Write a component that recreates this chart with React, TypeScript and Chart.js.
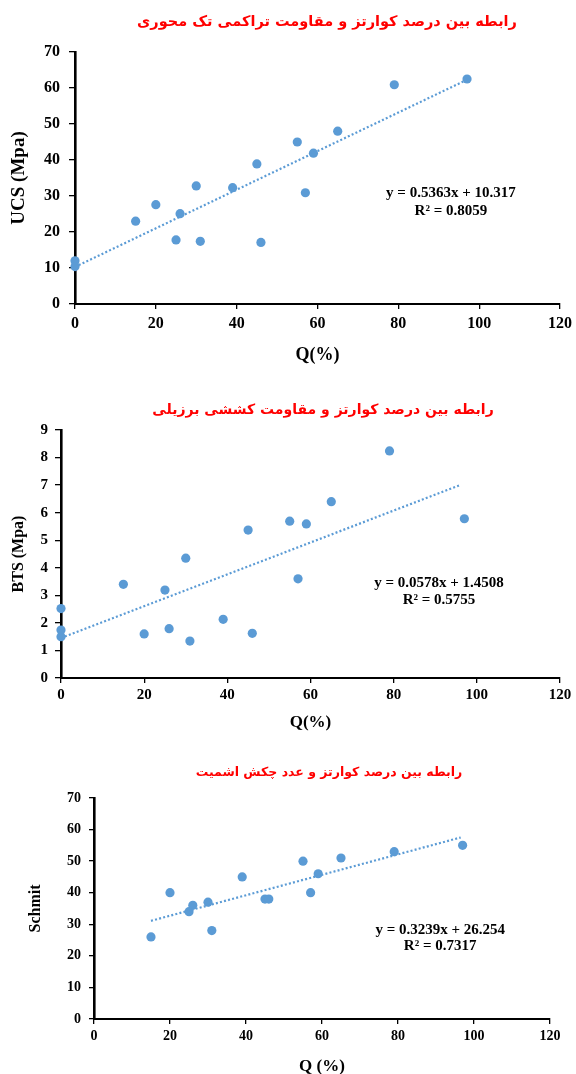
import React, { useEffect, useRef } from 'react';
import { Chart, registerables } from 'chart.js';

Chart.register(...registerables);

// ---------- data ----------
const TITLE_UCS = 'رابطه بین درصد کوارتز و مقاومت تراکمی تک محوری';
const TITLE_BTS = 'رابطه بین درصد کوارتز و مقاومت کششی برزیلی';
const TITLE_SCH = 'رابطه بین درصد کوارتز و عدد چکش اشمیت';

const Q_UCS = [0, 0, 15, 20, 25, 26, 30, 31, 39, 45, 46, 55, 57, 59, 65, 79, 97];
const UCS = [12.0, 10.4, 23.0, 27.6, 17.8, 25.1, 32.8, 17.4, 32.3, 38.9, 17.1, 45.0, 30.9, 41.9, 48.0, 60.9, 62.5];
const TREND_UCS_X = [0, 97];
const TREND_UCS_Y = [10.3, 62.3];
const EQ_UCS = ['y = 0.5363x + 10.317', 'R² = 0.8059'];

const Q_BTS = [0, 0, 0, 15, 20, 25, 26, 30, 31, 39, 45, 46, 55, 57, 59, 65, 79, 97];
const BTS = [2.52, 1.74, 1.5, 3.4, 1.6, 3.19, 1.79, 4.35, 1.34, 2.13, 5.37, 1.62, 5.69, 3.6, 5.59, 6.4, 8.24, 5.78];
const TREND_BTS_X = [0, 96];
const TREND_BTS_Y = [1.45, 7.0];
const EQ_BTS = ['y = 0.0578x + 1.4508', 'R² = 0.5755'];

const Q_SCH = [15, 20, 25, 26, 30, 31, 39, 45, 46, 55, 57, 59, 65, 79, 97];
const SCH = [26, 40, 34, 36, 37, 28, 45, 38, 38, 50, 40, 46, 51, 53, 55];
const TREND_SCH_X = [15, 96.5];
const TREND_SCH_Y = [31.1, 57.5];
const EQ_SCH = ['y = 0.3239x + 26.254', 'R² = 0.7317'];

const X_TICKS_MAX = 120;
const X_TICKS_STEP = 20;

const BLUE = '#5B9BD5';
const SERIF = '"Liberation Serif", "Times New Roman", serif';

// ---------- plugin for the regression text ----------
const eqPlugin = {
  id: 'eqText',
  afterDatasetsDraw(chart: any, _args: any, opts: any) {
    if (!opts || !opts.lines) return;
    const { ctx, scales } = chart;
    const x = scales.x.getPixelForValue(opts.x);
    const y = scales.y.getPixelForValue(opts.y);
    ctx.save();
    ctx.font = `bold ${opts.size}px ${SERIF}`;
    ctx.fillStyle = '#000';
    ctx.textAlign = 'center';
    ctx.textBaseline = 'middle';
    opts.lines.forEach((l: string, i: number) => ctx.fillText(l, x, y + i * opts.gap));
    ctx.restore();
  },
};

type Panel = {
  top: number; width: number; height: number;
  title: string; titleSize: number; titlePad: { top: number; bottom: number };
  xs: number[]; ys: number[]; tx: number[]; ty: number[];
  yMax: number; yStep: number;
  yWidth: number; rightPad: number; xHeight: number;
  tickSize: number; yTickLen: number; yTickPad: number; xTickLen: number; xTickPad: number;
  xTitle: string; xTitleSize: number; xTitlePad: number;
  yTitle: string; yTitleSize: number; yTitlePad: number;
  eq: string[]; eqX: number; eqY: number; eqSize: number; eqGap: number;
};

const PANELS: Panel[] = [
  {
    top: 0, width: 654, height: 372,
    title: TITLE_UCS, titleSize: 14.5, titlePad: { top: 13.3, bottom: 21.3 },
    xs: Q_UCS, ys: UCS, tx: TREND_UCS_X, ty: TREND_UCS_Y,
    yMax: 70, yStep: 10,
    yWidth: 75, rightPad: 94, xHeight: 68,
    tickSize: 16, yTickLen: 6, yTickPad: 9, xTickLen: 5, xTickPad: 5,
    xTitle: 'Q(%)', xTitleSize: 18, xTitlePad: 6,
    yTitle: 'UCS (Mpa)', yTitleSize: 19, yTitlePad: 7.6,
    eq: EQ_UCS, eqX: 93, eqY: 30.8, eqSize: 15, eqGap: 18,
  },
  {
    top: 372, width: 646, height: 370,
    title: TITLE_BTS, titleSize: 14, titlePad: { top: 29.6, bottom: 11.6 },
    xs: Q_BTS, ys: BTS, tx: TREND_BTS_X, ty: TREND_BTS_Y,
    yMax: 9, yStep: 1,
    yWidth: 61, rightPad: 86, xHeight: 64,
    tickSize: 15, yTickLen: 6, yTickPad: 7, xTickLen: 5, xTickPad: 3,
    xTitle: 'Q(%)', xTitleSize: 17, xTitlePad: 8.8,
    yTitle: 'BTS (Mpa)', yTitleSize: 16, yTitlePad: 8.9,
    eq: EQ_BTS, eqX: 90.9, eqY: 3.45, eqSize: 15, eqGap: 17,
  },
  {
    top: 742, width: 658, height: 332,
    title: TITLE_SCH, titleSize: 12.5, titlePad: { top: 23.5, bottom: 17.5 },
    xs: Q_SCH, ys: SCH, tx: TREND_SCH_X, ty: TREND_SCH_Y,
    yMax: 70, yStep: 10,
    yWidth: 94, rightPad: 108, xHeight: 55,
    tickSize: 14, yTickLen: 5, yTickPad: 8, xTickLen: 5, xTickPad: 4,
    xTitle: 'Q (%)', xTitleSize: 17, xTitlePad: -3.2,
    yTitle: 'Schmit', yTitleSize: 16, yTitlePad: 26.4,
    eq: EQ_SCH, eqX: 91.1, eqY: 28.2, eqSize: 15, eqGap: 16,
  },
];

function ScatterPanel({ p }: { p: Panel }) {
  const ref = useRef<HTMLCanvasElement | null>(null);
  useEffect(() => {
    if (!ref.current) return;
    const tickFont = { family: SERIF, size: p.tickSize, weight: 'bold' as const };
    const chart = new Chart(ref.current, {
      type: 'scatter',
      data: {
        datasets: [
          {
            type: 'line' as any,
            data: p.tx.map((x, i) => ({ x, y: p.ty[i] })),
            borderColor: BLUE,
            borderWidth: 2.2,
            borderDash: [2, 2.2],
            pointRadius: 0,
            fill: false,
            order: 0,
            clip: false as any,
            xAxisID: 'x',
            yAxisID: 'y',
          } as any,
          {
            data: p.xs.map((x, i) => ({ x, y: p.ys[i] })),
            backgroundColor: BLUE,
            borderColor: BLUE,
            pointRadius: 4.6,
            pointBorderWidth: 0,
            order: 1,
            clip: false as any,
            xAxisID: 'x',
            yAxisID: 'y',
          } as any,
        ],
      },
      options: {
        responsive: false,
        animation: false,
        devicePixelRatio: 1,
        layout: { padding: 0 },
        plugins: {
          legend: { display: false },
          tooltip: { enabled: false },
          title: {
            display: true,
            text: p.title,
            color: '#FF0000',
            font: { family: '"DejaVu Sans", sans-serif', size: p.titleSize, weight: 'bold' },
            padding: p.titlePad,
          },
          eqText: { lines: p.eq, x: p.eqX, y: p.eqY, size: p.eqSize, gap: p.eqGap },
        } as any,
        scales: {
          x: {
            type: 'linear',
            min: 0,
            max: X_TICKS_MAX,
            ticks: { stepSize: X_TICKS_STEP, font: tickFont, color: '#000', padding: p.xTickPad, maxRotation: 0 },
            grid: { display: true, drawOnChartArea: false, drawTicks: true, tickLength: p.xTickLen, color: '#000', lineWidth: 1.3 },
            border: { display: true, color: '#000', width: 2 },
            title: {
              display: true,
              text: p.xTitle,
              color: '#000',
              font: { family: SERIF, size: p.xTitleSize, weight: 'bold' },
              padding: { top: 0, bottom: p.xTitlePad },
            },
            afterFit: (s: any) => { s.height = p.xHeight; },
          },
          y: {
            type: 'linear',
            position: 'left',
            min: 0,
            max: p.yMax,
            ticks: { stepSize: p.yStep, font: tickFont, color: '#000', padding: p.yTickPad },
            grid: { display: true, drawOnChartArea: false, drawTicks: true, tickLength: p.yTickLen, color: '#000', lineWidth: 1.3 },
            border: { display: true, color: '#000', width: 2.6 },
            title: {
              display: true,
              text: p.yTitle,
              color: '#000',
              font: { family: SERIF, size: p.yTitleSize, weight: 'bold' },
              padding: { top: p.yTitlePad, bottom: 0 },
            },
            afterFit: (s: any) => { s.width = p.yWidth; },
          },
          yPad: {
            type: 'linear',
            position: 'right',
            display: true,
            ticks: { display: false },
            grid: { display: false },
            border: { display: false },
            afterFit: (s: any) => { s.width = p.rightPad; },
          },
        } as any,
      },
      plugins: [eqPlugin as any],
    });
    return () => chart.destroy();
  }, [p]);
  return (
    <canvas
      ref={ref}
      width={p.width}
      height={p.height}
      style={{ position: 'absolute', left: 0, top: p.top, width: p.width, height: p.height }}
    />
  );
}

export default function App() {
  return (
    <div
      style={{
        position: 'fixed',
        left: 0,
        top: 0,
        width: 576,
        height: 1074,
        overflow: 'hidden',
        background: '#fff',
      }}
    >
      {PANELS.map((p, i) => (
        <ScatterPanel key={i} p={p} />
      ))}
    </div>
  );
}
